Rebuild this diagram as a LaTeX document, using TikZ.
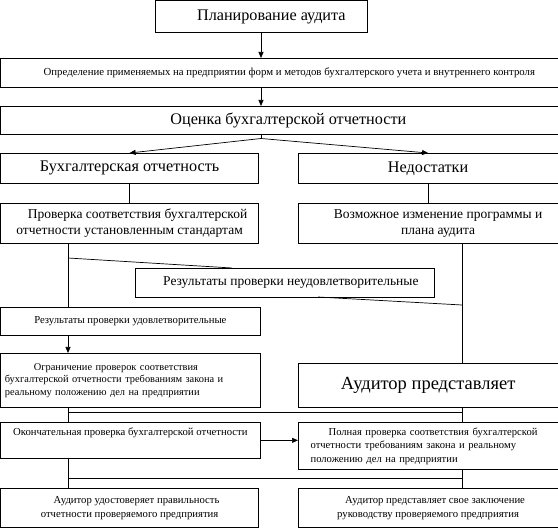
\documentclass[tikz,border=0pt]{standalone}
\usepackage{fontspec}
\setmainfont{Liberation Serif}
\usetikzlibrary{arrows.meta}
\tikzset{
  box/.style={draw=black, line width=0.7pt, anchor=north west, inner sep=0pt, align=center, text=black},
  conn/.style={draw=black, line width=0.7pt},
  arr/.style={conn, -{Triangle[length=6pt,width=5pt]}},
  fL/.style={font=\fontsize{16.2}{19}\selectfont},
  fH/.style={font=\fontsize{18.5}{21}\selectfont},
  fM/.style={font=\fontsize{13.5}{15.5}\selectfont},
  fS/.style={font=\fontsize{10.7}{13.5}\selectfont},
  fT/.style={font=\fontsize{10.8}{12}\selectfont},
}
\begin{document}
\begin{tikzpicture}[x=1pt,y=-1pt]
\useasboundingbox (0,0) rectangle (558,529);
% boxes
\node[box,fL,minimum width=212pt,minimum height=31.5pt] (plan) at (155,0.5) {\hspace*{20pt}Планирование аудита};
\node[box,fT,minimum width=557pt,minimum height=29pt] (opr) at (0.5,58) {\hspace*{20pt}Определение применяемых на предприятии форм и методов бухгалтерского учета и внутреннего контроля};
\node[box,fL,minimum width=557pt,minimum height=28pt] (ocen) at (0.5,106) {\hspace*{18pt}Оценка бухгалтерской отчетности};
\node[box,fL,minimum width=257.5pt,minimum height=30pt] (buh) at (0.5,153) {Бухгалтерская отчетность};
\node[box,fL,minimum width=259.5pt,minimum height=30pt] (ned) at (298,153) {Недостатки};
\node[box,fM,minimum width=257.5pt,minimum height=40pt] (prov) at (0.5,203) {\hspace*{16pt}Проверка соответствия бухгалтерской\\отчетности установленным стандартам};
\node[box,fM,minimum width=259.5pt,minimum height=40pt] (voz) at (298,203) {\hspace*{20pt}Возможное изменение программы и\\\hspace*{20pt}плана аудита};
\node[box,fM,minimum width=299pt,minimum height=29pt] (neud) at (135,268) {\hspace*{12pt}Результаты проверки неудовлетворительные};
\node[box,fS,minimum width=259pt,minimum height=28pt] (udov) at (0.5,307) {Результаты проверки удовлетворительные};
\node[box,minimum width=259pt,minimum height=54pt,align=left,text width=251pt,font=\fontsize{10.4}{12.5}\selectfont] (ogr) at (0.5,353) {\hspace*{29pt}Ограничение проверок соответствия\\бухгалтерской отчетности требованиям закона и\\реальному положению дел на предприятии};
\node[box,fH,minimum width=259.5pt,minimum height=44pt] (aud) at (298,363) {Аудитор представляет};
\node[box,fS,minimum width=259pt,minimum height=36pt] (okon) at (0.5,422) {Окончательная проверка бухгалтерской отчетности\\[3pt]};
\node[box,minimum width=259.5pt,minimum height=47pt,align=left,text width=235pt,font=\fontsize{10.6}{13.5}\selectfont] (poln) at (298,422) {\hspace*{18pt}Полная проверка соответствия бухгалтерской\\отчетности требованиям закона и реальному\\положению дел на предприятии};
\node[box,fS,minimum width=257.5pt,minimum height=39.5pt] (bl) at (0.5,488) {\hspace*{14pt}Аудитор удостоверяет правильность\\отчетности проверяемого предприятия};
\node[box,fS,minimum width=259.5pt,minimum height=39.5pt] (br) at (298,488) {\hspace*{14pt}Аудитор представляет свое заключение\\руководству проверяемого предприятия};
% helper coordinates
\coordinate (Lx) at (68,0);
\coordinate (Rx) at (462,0);
\coordinate (apex) at (261,138.5);
\coordinate (dA) at (68,258);
\coordinate (dB) at (232,268);
\coordinate (dC) at (318,297);
\coordinate (dD) at (462,305);
\coordinate (h1) at (0,412);
\coordinate (h2) at (0,478);
% connectors
\draw[arr] (plan.south -| apex) -- (opr.north -| apex);
\draw[arr] (opr.south -| apex) -- (ocen.north -| apex);
\draw[conn] (ocen.south -| apex) -- (apex);
\draw[arr] (apex) -- (buh.north);
\draw[arr] (apex) -- (ned.north);
\draw[conn] (buh.south) -- (prov.north);
\draw[conn] (ned.south) -- (voz.north);
\draw[conn] (prov.south -| Lx) -- (udov.north -| Lx);
\draw[conn] (dA) -- (dB);
\draw[conn] (dC) -- (dD);
\draw[conn] (voz.south -| Rx) -- (aud.north -| Rx);
\draw[arr] (udov.south -| Lx) -- (ogr.north -| Lx);
\draw[conn] (ogr.south -| Lx) -- (okon.north -| Lx);
\draw[conn] (aud.south -| Rx) -- (poln.north -| Rx);
\draw[conn] (h1 -| Lx) -- (h1 -| Rx);
\draw[arr] (okon.east) -- (okon.east -| poln.west);
\draw[conn] (okon.south -| Lx) -- (bl.north -| Lx);
\draw[conn] (poln.south -| Rx) -- (br.north -| Rx);
\draw[conn] (h2 -| Lx) -- (h2 -| Rx);
\end{tikzpicture}
\end{document}
